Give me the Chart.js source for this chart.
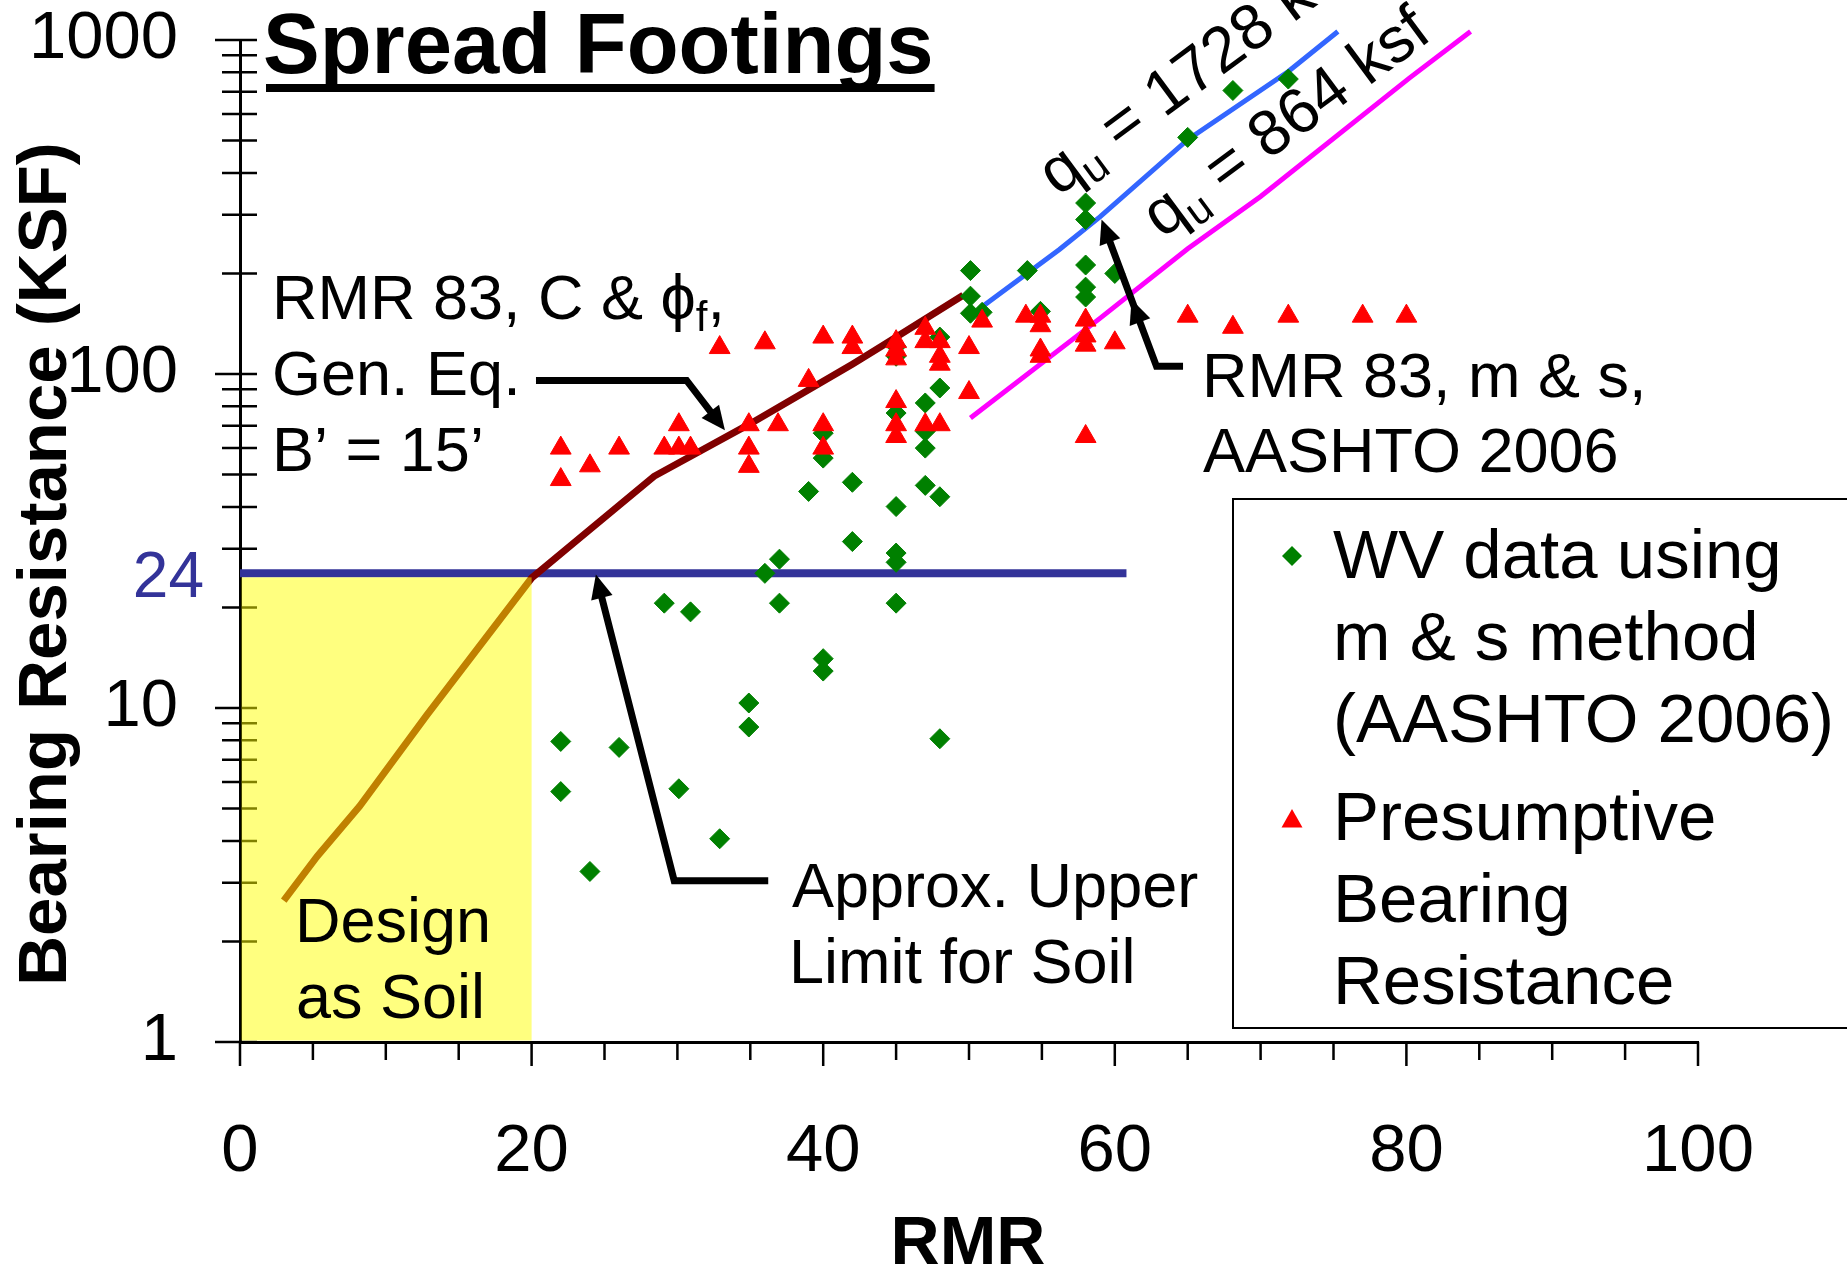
<!DOCTYPE html>
<html>
<head>
<meta charset="utf-8">
<title>Spread Footings</title>
<script src="https://cdn.jsdelivr.net/npm/chart.js@4.4.1/dist/chart.umd.min.js"></script>
<style>
  html, body { margin: 0; padding: 0; background: #fff; }
  canvas { display: block; }
</style>
</head>
<body>
<canvas id="footing-chart" width="1847" height="1268"></canvas>
<script>
// Datos
const xTickValues = [0, 5, 10, 15, 20, 25, 30, 35, 40, 45, 50, 55, 60, 65, 70, 75, 80, 85, 90, 95, 100];
const xTickLabels = ['0', '20', '40', '60', '80', '100'];
const yTickValues = [1, 2, 3, 4, 5, 6, 7, 8, 9, 10, 20, 30, 40, 50, 60, 70, 80, 90,
                     100, 200, 300, 400, 500, 600, 700, 800, 900, 1000];
const yTickLabels = ['1', '10', '100', '1000'];

// WV data using m & s method (AASHTO 2006)
const wvRmr = [22, 22, 24, 26, 29.1, 30.1, 30.9, 32.9, 34.9, 34.9, 36, 37, 37, 39,
               40, 40, 40, 40, 42, 42, 45, 45, 45, 45, 45, 45, 45, 47, 47, 47, 47,
               48, 48, 48, 48, 50.1, 50.1, 50.1, 50.9, 54, 54.9, 58, 58, 58, 58, 58,
               60, 65, 68.1, 71.9];
const wvKsf = [7.94, 5.62, 3.24, 7.62, 20.6, 5.73, 19.4, 4.06, 10.35, 8.77, 25.3, 27.9, 20.6, 44.5,
               66.5, 56, 14.05, 12.9, 47.4, 31.5, 121, 113, 76.4, 40.1, 29.1, 27.3, 20.6, 81.9, 67.3, 60, 46.4,
               129, 90.8, 42.9, 8.09, 204, 171, 152, 153, 204, 154, 325, 290, 212, 182, 170,
               200, 511, 706, 764];

// Presumptive Bearing Resistance
const presRmr = [22, 22, 24, 26, 29.1, 30.1, 30.1, 30.9, 32.9, 34.9, 34.9, 34.9, 36, 36.9, 39,
                 40, 40, 40, 42, 42, 45, 45, 45, 45, 45, 45, 47, 47, 47, 48, 48, 48, 48,
                 50, 50, 50.9, 53.9, 54.9, 54.9, 54.9, 54.9, 58, 58, 58, 58, 60, 65, 68.1,
                 71.9, 77, 80];
const presKsf = [60, 48.3, 53.1, 60, 60, 70.5, 60, 60, 120, 70.5, 60, 52.9, 124, 70.5, 95.7,
                 129, 70.5, 60, 129, 120, 125, 118, 111, 82.7, 70.5, 65, 137, 125, 70.5, 125, 113, 107, 70.5,
                 120, 88, 144, 149, 149, 139.5, 118, 113, 145, 130, 122, 65, 124, 149, 138,
                 149, 149, 149];

// RMR 83, C & phi_f, Gen. Eq., B' = 15'
const cphiRmr = [3, 5.3, 8.2, 12.8, 20, 23, 28.4, 35, 42, 44, 49.6];
const cphiKsf = [2.65, 3.6, 5.08, 9.5, 24.5, 31.5, 49.4, 71, 107, 121, 172];

// RMR 83, m & s, AASHTO 2006
const qu1728Rmr = [50.9, 56.2, 59, 65, 71.9, 75.3];
const qu1728Ksf = [159, 236, 296, 503, 805, 1060];
const qu864Rmr = [50.1, 59, 65, 70, 80.2, 84.4];
const qu864Ksf = [73.8, 147, 237, 340, 769, 1060];

// Approx. upper limit for soil
const soilLimitRmr = [0, 60.8];
const soilLimitKsf = [25.3, 25.3];
const soilZoneRmr = [0, 20];

const FONT = '"Liberation Sans", Arial, sans-serif';
Chart.defaults.font.family = FONT;

const toPoints = (xs, ys) => xs.map((x, i) => ({ x: x, y: ys[i] }));

function drawArrow(ctx, pts, midTip) {
  const n = pts.length;
  const tip = pts[n - 1], prev = pts[n - 2];
  const ang = Math.atan2(tip[1] - prev[1], tip[0] - prev[0]);
  const len = 24, half = 11;
  ctx.lineWidth = 7;
  ctx.lineJoin = 'miter';
  ctx.beginPath();
  ctx.moveTo(pts[0][0], pts[0][1]);
  for (let i = 1; i < n - 1; i++) ctx.lineTo(pts[i][0], pts[i][1]);
  ctx.lineTo(tip[0] - Math.cos(ang) * len * 0.8, tip[1] - Math.sin(ang) * len * 0.8);
  ctx.stroke();
  const heads = midTip ? [tip, midTip] : [tip];
  heads.forEach(h => {
    const bx = h[0] - Math.cos(ang) * len, by = h[1] - Math.sin(ang) * len;
    ctx.beginPath();
    ctx.moveTo(h[0], h[1]);
    ctx.lineTo(bx + Math.sin(ang) * half, by - Math.cos(ang) * half);
    ctx.lineTo(bx - Math.sin(ang) * half, by + Math.cos(ang) * half);
    ctx.closePath();
    ctx.fill();
  });
}

function quLabel(ctx, x, y, value) {
  ctx.save();
  ctx.translate(x, y);
  ctx.rotate(-36.5 * Math.PI / 180);
  ctx.font = '64px ' + FONT;
  ctx.fillText('q', 0, 0);
  let w = ctx.measureText('q').width;
  ctx.font = '42px ' + FONT;
  ctx.fillText('u', w, 12);
  w += ctx.measureText('u').width;
  ctx.font = '64px ' + FONT;
  ctx.fillText(' = ' + value + ' ksf', w, 0);
  ctx.restore();
}

const decorations = {
  id: 'decorations',
  afterDatasetsDraw(chart) {
    const ctx = chart.ctx;
    const X = v => chart.scales.x.getPixelForValue(v);
    const Y = v => chart.scales.y.getPixelForValue(v);
    const x0 = X(0), y0 = Y(1);
    ctx.save();

    // marcas de los ejes (cruzan el eje y)
    ctx.strokeStyle = '#000';
    ctx.lineWidth = 2.5;
    ctx.beginPath();
    yTickValues.forEach(v => {
      const p = Y(v);
      const major = yTickLabels.includes(String(v));
      ctx.moveTo(x0 - (major ? 25 : 18), p);
      ctx.lineTo(x0 + 17, p);
    });
    xTickValues.forEach(v => {
      const p = X(v);
      const major = xTickLabels.includes(String(v));
      ctx.moveTo(p, y0);
      ctx.lineTo(p, y0 + (major ? 24 : 18));
    });
    ctx.stroke();

    // zona "Design as Soil" (amarillo semitransparente)
    const top = Y(soilLimitKsf[0]) + 4;
    ctx.fillStyle = 'rgba(255,255,0,0.5)';
    ctx.fillRect(X(soilZoneRmr[0]) + 1.5, top, X(soilZoneRmr[1]) - X(soilZoneRmr[0]) - 1.5, y0 - 1.5 - top);

    // título
    ctx.fillStyle = '#000';
    ctx.textAlign = 'left';
    ctx.textBaseline = 'alphabetic';
    ctx.font = 'bold 85px ' + FONT;
    ctx.fillText('Spread Footings', 263, 73);
    ctx.fillRect(266, 84, ctx.measureText('Spread Footings').width - 2, 8);

    // títulos de ejes
    ctx.save();
    ctx.translate(66, 564);
    ctx.rotate(-Math.PI / 2);
    ctx.textAlign = 'center';
    ctx.font = 'bold 69px ' + FONT;
    ctx.fillText('Bearing Resistance (KSF)', 0, 0);
    ctx.restore();
    ctx.textAlign = 'center';
    ctx.font = 'bold 68px ' + FONT;
    ctx.fillText('RMR', 968, 1264);

    // etiqueta 24
    ctx.textAlign = 'right';
    ctx.fillStyle = '#333399';
    ctx.font = '64px ' + FONT;
    ctx.fillText('24', 204, Y(soilLimitKsf[0]) + 24);

    // anotaciones
    ctx.fillStyle = '#000';
    ctx.textAlign = 'left';
    ctx.font = '63px ' + FONT;
    let s = 'RMR 83, C & ';
    ctx.fillText(s, 272, 319);
    let w = 272 + ctx.measureText(s).width;
    ctx.fillText('\u03D5', w, 319);
    w += ctx.measureText('\u03D5').width;
    ctx.font = '42px ' + FONT;
    ctx.fillText('f', w, 331);
    w += ctx.measureText('f').width;
    ctx.font = '63px ' + FONT;
    ctx.fillText(',', w, 319);
    ctx.fillText('Gen. Eq.', 272, 395);
    ctx.fillText('B\u2019 = 15\u2019', 272, 471);
    ctx.fillText('RMR 83, m & s,', 1202, 397);
    ctx.fillText('AASHTO 2006', 1203, 472);
    ctx.fillText('Approx. Upper', 792, 907);
    ctx.fillText('Limit for Soil', 789, 983);
    ctx.fillText('Design', 295, 942);
    ctx.fillText('as Soil', 296, 1018);

    quLabel(ctx, 1058, 197, '1728');
    quLabel(ctx, 1162, 239, '864');

    // flechas (en coordenadas de datos)
    const P = (r, k) => [X(r), Y(k)];
    ctx.strokeStyle = '#000';
    drawArrow(ctx, [P(20.3, 95.7), P(30.63, 95.7), P(33.26, 67.8)]);
    drawArrow(ctx, [P(36.23, 3.04), P(29.78, 3.04), P(24.41, 25.1)]);
    drawArrow(ctx, [P(64.68, 105.4), P(62.86, 105.4), P(59.09, 290)], P(61.15, 167));

    // leyenda
    ctx.lineWidth = 2;
    ctx.strokeRect(1233, 499, 700, 529);
    ctx.fillStyle = '#008000';
    ctx.beginPath();
    ctx.moveTo(1282, 556); ctx.lineTo(1292, 546); ctx.lineTo(1302, 556); ctx.lineTo(1292, 566);
    ctx.closePath();
    ctx.fill();
    ctx.fillStyle = '#ff0000';
    ctx.beginPath();
    ctx.moveTo(1292, 809); ctx.lineTo(1302.5, 827.5); ctx.lineTo(1281.5, 827.5);
    ctx.closePath();
    ctx.fill();
    ctx.fillStyle = '#000';
    ctx.font = '69px ' + FONT;
    ['WV data using', 'm & s method', '(AASHTO 2006)'].forEach((t, i) => ctx.fillText(t, 1333, 578 + i * 82));
    ['Presumptive', 'Bearing', 'Resistance'].forEach((t, i) => ctx.fillText(t, 1333, 840 + i * 82));

    ctx.restore();
  }
};

const ctx = document.getElementById('footing-chart').getContext('2d');
new Chart(ctx, {
  type: 'scatter',
  data: {
    datasets: [{
      label: 'Presumptive Bearing Resistance',
      data: toPoints(presRmr, presKsf),
      pointStyle: 'triangle',
      pointRadius: 12,
      backgroundColor: '#ff0000',
      borderColor: '#ff0000',
      borderWidth: 1,
      order: 0
    }, {
      label: 'WV data using m & s method (AASHTO 2006)',
      data: toPoints(wvRmr, wvKsf),
      pointStyle: 'rectRot',
      pointRadius: 10,
      backgroundColor: '#008000',
      borderColor: '#008000',
      borderWidth: 1,
      order: 1
    }, {
      type: 'line',
      label: 'RMR 83, C & phi',
      data: toPoints(cphiRmr, cphiKsf),
      borderColor: '#800000',
      borderWidth: 7,
      pointRadius: 0,
      tension: 0,
      fill: false,
      order: 2
    }, {
      type: 'line',
      label: 'qu = 1728 ksf',
      data: toPoints(qu1728Rmr, qu1728Ksf),
      borderColor: '#3366ff',
      borderWidth: 5,
      pointRadius: 0,
      tension: 0,
      fill: false,
      clip: false,
      order: 3
    }, {
      type: 'line',
      label: 'qu = 864 ksf',
      data: toPoints(qu864Rmr, qu864Ksf),
      borderColor: '#ff00ff',
      borderWidth: 5,
      pointRadius: 0,
      tension: 0,
      fill: false,
      clip: false,
      order: 4
    }, {
      type: 'line',
      label: 'Approx. Upper Limit for Soil',
      data: toPoints(soilLimitRmr, soilLimitKsf),
      borderColor: '#333399',
      borderWidth: 8,
      pointRadius: 0,
      fill: false,
      clip: false,
      order: 5
    }]
  },
  options: {
    responsive: false,
    animation: false,
    layout: { padding: { top: 40, right: 149, left: 0, bottom: 0 } },
    plugins: {
      legend: { display: false },
      tooltip: { enabled: false }
    },
    scales: {
      x: {
        type: 'linear',
        min: 0,
        max: 100,
        afterBuildTicks: scale => { scale.ticks = xTickValues.map(v => ({ value: v })); },
        afterFit: scale => {
          scale.height = 226;
          scale.paddingLeft = 0;
          scale.paddingRight = 0;
        },
        grid: { display: false, drawTicks: false },
        border: { display: true, color: '#000', width: 3 },
        ticks: {
          autoSkip: false,
          maxRotation: 0,
          padding: 70,
          color: '#000',
          font: { size: 67 },
          callback: v => xTickLabels.includes(String(v)) ? String(v) : ''
        }
      },
      y: {
        type: 'logarithmic',
        min: 1,
        max: 1000,
        afterBuildTicks: scale => { scale.ticks = yTickValues.map(v => ({ value: v })); },
        afterFit: scale => {
          scale.width = 240;
          scale.paddingTop = 0;
          scale.paddingBottom = 0;
        },
        grid: { display: false, drawTicks: false },
        border: { display: true, color: '#000', width: 3 },
        ticks: {
          autoSkip: false,
          padding: 62,
          color: '#000',
          font: { size: 67 },
          callback: v => yTickLabels.includes(String(v)) ? String(v) : ''
        }
      }
    }
  },
  plugins: [decorations]
});
</script>
</body>
</html>
